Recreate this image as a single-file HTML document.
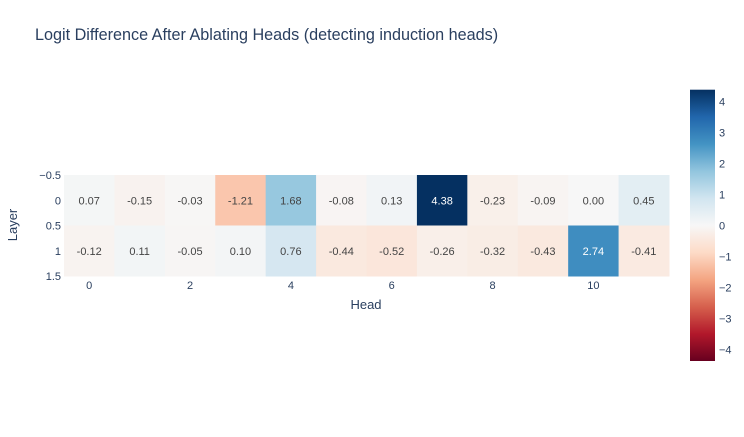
<!DOCTYPE html>
<html><head><meta charset="utf-8"><style>
body{margin:0;background:#fff;font-family:"Liberation Sans",Arial,sans-serif}
svg text{font-family:"Liberation Sans",Arial,sans-serif}
</style></head><body>
<svg id="chart" width="744" height="432" xmlns="http://www.w3.org/2000/svg">
<text x="35" y="40" font-size="16.2" fill="#2a3f5f">Logit Difference After Ablating Heads (detecting induction heads)</text>
<g id="cells"></g>
<g id="axes"></g>
<text x="17" y="225" font-size="13" fill="#2a3f5f" transform="rotate(-90 17 225)" text-anchor="middle">Layer</text>
<text x="366" y="309" font-size="13" fill="#2a3f5f" text-anchor="middle">Head</text>
<defs><linearGradient id="cbg" x1="0" y1="1" x2="0" y2="0"></linearGradient></defs>
<rect x="690" y="89.7" width="25" height="271.3" fill="url(#cbg)"/>
<g id="cbticks"></g>
</svg>
<script>
const heads = [0,1,2,3,4,5,6,7,8,9,10,11];
const layers = [0,1];
const layer0 = [0.07,-0.15,-0.03,-1.21,1.68,-0.08,0.13,4.38,-0.23,-0.09,0.00,0.45];
const layer1 = [-0.12,0.11,-0.05,0.10,0.76,-0.44,-0.52,-0.26,-0.32,-0.43,2.74,-0.41];
const xTicks = [0,2,4,6,8,10];
const yTickLabels = ["\u22120.5","0","0.5","1","1.5"];
const yTickVals = [-0.5,0,0.5,1,1.5];
const cbTicks = [4,3,2,1,0,-1,-2,-3,-4];
const zmax = 4.38;
const scale = [[103,0,31],[178,24,43],[214,96,77],[244,165,130],[253,219,199],[247,247,247],[209,229,240],[146,197,222],[67,147,195],[33,102,172],[5,48,97]];
const NS="http://www.w3.org/2000/svg";
const X0=64,X1=669,Y0=175,Y1=276;
const xs=h=>X0+(h+0.5)*(X1-X0)/12;
const ys=l=>Y0+(l+0.5)*(Y1-Y0)/2;
const cw=(X1-X0)/12,ch=(Y1-Y0)/2;
function color(v){let t=(v+zmax)/(2*zmax);t=Math.max(0,Math.min(1,t));const p=t*10,i=Math.min(9,Math.floor(p)),f=p-i;const a=scale[i],b=scale[i+1];return `rgb(${a.map((c,k)=>Math.round(c+(b[k]-c)*f)).join(',')})`;}
function mk(tag,attrs,parent){const e=document.createElementNS(NS,tag);for(const k in attrs)e.setAttribute(k,attrs[k]);parent.appendChild(e);return e;}
const cells=document.getElementById('cells');
[layer0,layer1].forEach((row,l)=>{row.forEach((v,h)=>{
 const r=mk('rect',{x:xs(h)-cw/2,y:ys(layers[l])-ch/2,width:cw+0.5,height:ch+0.5,fill:color(v)},cells);
 
 
 const t=mk('text',{x:xs(h),y:ys(layers[l])+4,'font-size':11,'text-anchor':'middle',fill:Math.abs(v)>2.2?'#fff':'#444'},cells);
 t.textContent=v.toFixed(2).replace(/^-0\.00$/,'0.00');
 
 
});});
const axes=document.getElementById('axes');
xTicks.forEach(v=>{const t=mk('text',{x:xs(v),y:289,'font-size':11,'text-anchor':'middle',fill:'#2a3f5f'},axes);t.textContent=v;
 
 });
yTickVals.forEach((v,i)=>{const t=mk('text',{x:61,y:ys(v)+4,'font-size':11,'text-anchor':'end',fill:'#2a3f5f'},axes);t.textContent=yTickLabels[i];
 
 });
const g=document.getElementById('cbg');
scale.forEach((c,i)=>mk('stop',{offset:i/10,'stop-color':`rgb(${c.join(',')})`},g));
const cb=document.getElementById('cbticks');
const cy=v=>225.4-v*(271.3/2)/zmax;
cbTicks.forEach(v=>{
 const t=mk('text',{x:719,y:cy(v)+4,'font-size':11,fill:'#2a3f5f'},cb);t.textContent=v<0?'\u2212'+(-v):v;
 
 });
</script>
</body></html>
